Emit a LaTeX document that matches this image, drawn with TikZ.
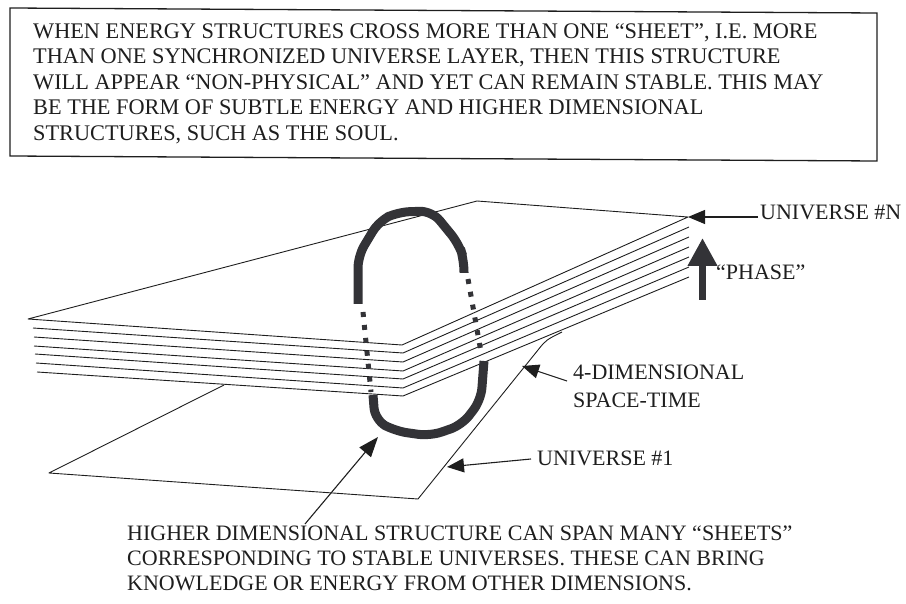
\documentclass[tikz,border=0pt]{standalone}
\usepackage{fontspec}
\setmainfont{Liberation Serif}
\usetikzlibrary{arrows.meta}
\definecolor{loopgray}{HTML}{333337}
\definecolor{inkc}{HTML}{1E1E1E}
\tikzset{
  sheet/.style={draw=inkc, line width=0.9pt, line join=round},
  loopline/.style={draw=loopgray, line width=9pt, rounded corners=12pt, line cap=butt},
  loopdots/.style={draw=loopgray, line width=5pt, dash pattern=on 5pt off 8pt},
  pointer/.style={draw=inkc, line width=1.1pt, -{Triangle[length=17pt,width=14pt]}},
  label/.style={inner sep=0pt, anchor=base west, text=inkc, font=\fontsize{22}{25}\selectfont},
  para/.style={inner sep=0pt, anchor=north west, align=left, text=inkc},
}
\begin{document}
\begin{tikzpicture}[x=1pt,y=-1pt]
\useasboundingbox (0,0) rectangle (906,604);
% top box
\draw[draw=inkc, line width=1.3pt] (10,8) -- (877,13) -- (877,161) -- (10,156) -- cycle;
\node[para, font=\fontsize{22.3}{25.5}\selectfont] (toptext) at (33,23)
  {WHEN ENERGY STRUCTURES CROSS MORE THAN ONE “SHEET”, I.E. MORE\\
   THAN ONE SYNCHRONIZED UNIVERSE LAYER, THEN THIS STRUCTURE\\
   WILL APPEAR “NON-PHYSICAL” AND YET CAN REMAIN STABLE. THIS MAY\\
   BE THE FORM OF SUBTLE ENERGY AND HIGHER DIMENSIONAL\\
   STRUCTURES, SUCH AS THE SOUL.};
% corners
\coordinate (cL) at (28,319);
\coordinate (cM) at (402,345);
\coordinate (cN) at (688,217);
\coordinate (cB) at (477,201);
\coordinate (bL) at (49,473);
\coordinate (bF) at (418,499);
\coordinate (bK) at (224,385);
% bottom sheet (universe #1)
\draw[sheet] (bK) -- (bL) -- (bF) -- (538,350) .. controls (546,340) .. (562,332);
% top sheet
\draw[sheet] (cL) -- (cB) -- (cN) -- (cM) -- cycle;
% stacked layers
\foreach \k/\lx/\ly/\my/\ry in {1/33/328/353/227, 2/34/337/362/237, 3/34/346/371/247, 4/35/354/379/257, 5/36/363/388/267, 6/37/372/396/277}{
  \draw[sheet] (\lx,\ly) -- (403,\my) -- (689,\ry);
}
% loop structure
\draw[loopline] (358,304) -- (358,256) -- (379,221) -- (398,212) -- (432,211) -- (459,244) -- (464,260) -- (464,273);
\draw[loopdots] (363,312) -- (371,392);
\draw[loopdots] (468,279) -- (481,352);
\draw[loopline] (373,395) -- (375,420) -- (395,431) -- (430,436) -- (462,425) -- (481,400) -- (484,361);
% labels
\node[label] (labN) at (760,220) {UNIVERSE \#N};
\node[label] (labP) at (716,280) {“PHASE”};
\node[label] (lab4) at (573,380) {4-DIMENSIONAL};
\node[label] (labS) at (573,407) {SPACE-TIME};
\node[label] (lab1) at (537,465) {UNIVERSE \#1};
\node[para, font=\fontsize{22}{25}\selectfont] (bottext) at (127,526)
  {HIGHER DIMENSIONAL STRUCTURE CAN SPAN MANY “SHEETS”\\
   CORRESPONDING TO STABLE UNIVERSES. THESE CAN BRING\\
   KNOWLEDGE OR ENERGY FROM OTHER DIMENSIONS.};
% pointers
\coordinate (pN) at (758,217);
\coordinate (p4) at (567,381);
\coordinate (p1) at (531,459);
\coordinate (pH) at (305,524);
\coordinate (t4) at (522,366);
\coordinate (t1) at (447,467);
\coordinate (tH) at (378,437);
\draw[pointer] (pN) -- (cN);
\draw[pointer] (p4) -- (t4);
\draw[pointer] (p1) -- (t1);
\draw[pointer, -{Triangle[length=20pt,width=15pt]}] (pH) -- (tH);
% phase arrow
\coordinate (phB) at (702.5,300);
\coordinate (phT) at (702.5,238);
\draw[draw=loopgray, line width=7pt, -{Triangle[length=28pt,width=28pt]}] (phB) -- (phT);
\end{tikzpicture}
\end{document}
